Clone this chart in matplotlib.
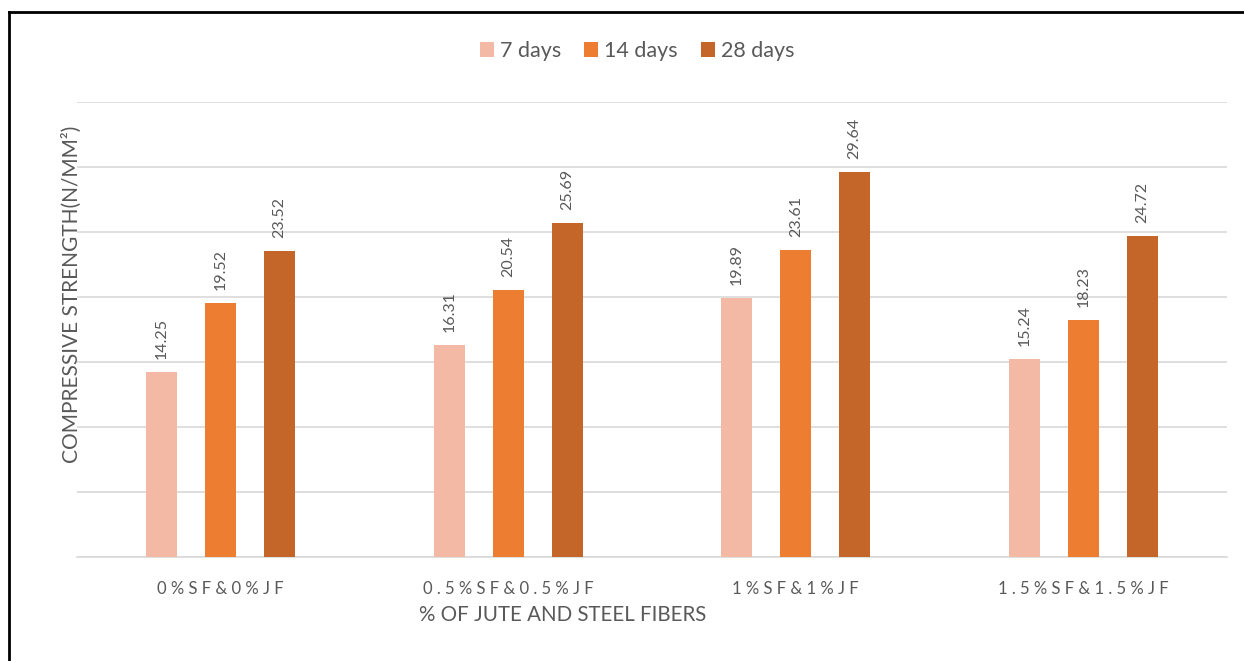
import numpy as np
import matplotlib.pyplot as plt
from matplotlib.lines import Line2D

plt.rcParams['font.family'] = ['Lato', 'DejaVu Sans']

# Data
categories = ['0%SF&0%JF', '0.5%SF&0.5%JF', '1%SF&1%JF', '1.5%SF&1.5%JF']
series = ['7 days', '14 days', '28 days']
days_7 = [14.25, 16.31, 19.89, 15.24]
days_14 = [19.52, 20.54, 23.61, 18.23]
days_28 = [23.52, 25.69, 29.64, 24.72]
colors = ['#F4B9A4', '#ED7D31', '#C4652A']

text_color = '#595959'

fig = plt.figure(figsize=(12.44, 6.61), dpi=100)
ax = fig.add_axes([77 / 1244, 104 / 661, 1150 / 1244, 455 / 661])

x = np.arange(len(categories))
width = 0.108
offsets = [-0.205, 0, 0.205]
for vals, off, col, name in zip([days_7, days_14, days_28], offsets, colors, series):
    bars = ax.bar(x + off, vals, width, color=col, label=name, zorder=3)
    for b, v in zip(bars, vals):
        ax.text(b.get_x() + b.get_width() / 2, v + 1.0, '{:.2f}'.format(v),
                rotation=90, ha='center', va='bottom', fontsize=11.5,
                color=text_color)

ax.set_xlim(-0.5, 3.5)
ax.set_ylim(0, 35)
ax.set_yticks(np.arange(0, 36, 5))
ax.set_yticklabels([])
ax.tick_params(axis='y', length=0)
ax.grid(axis='y', color='#D9D9D9', linewidth=1.2, zorder=0)
for s in ['top', 'right', 'left']:
    ax.spines[s].set_visible(False)
ax.spines['bottom'].set_color('#D9D9D9')
ax.spines['bottom'].set_linewidth(1.2)

# spaced-out category labels
spaced = [' '.join(list(c)) for c in categories]
ax.set_xticks(x)
ax.set_xticklabels(spaced, fontsize=12, color=text_color)
ax.tick_params(axis='x', length=0, pad=17)

fig.text(563 / 1244, 1 - 615 / 661, '% OF JUTE AND STEEL FIBERS', ha='center',
         va='center', fontsize=14.8, color=text_color)
fig.text(72 / 1244, 1 - 294 / 661, 'COMPRESSIVE STRENGTH(N/MM²)', rotation=90,
         ha='center', va='center', fontsize=15, color=text_color)

ax.legend(loc='center', bbox_to_anchor=(560 / 1150, (661 - 51 - 104) / 455),
          ncol=3, frameon=False, fontsize=15.5, handlelength=0.65,
          handleheight=0.65, handletextpad=0.3, columnspacing=1.05,
          labelcolor=text_color)

# black frame at top and left
fig.add_artist(Line2D([9 / 1244, 1], [1 - 12 / 661, 1 - 12 / 661],
                      color='black', linewidth=2, transform=fig.transFigure))
fig.add_artist(Line2D([9 / 1244, 9 / 1244], [0, 1 - 12 / 661],
                      color='black', linewidth=2, transform=fig.transFigure))

fig.savefig('out.png', dpi=100)
